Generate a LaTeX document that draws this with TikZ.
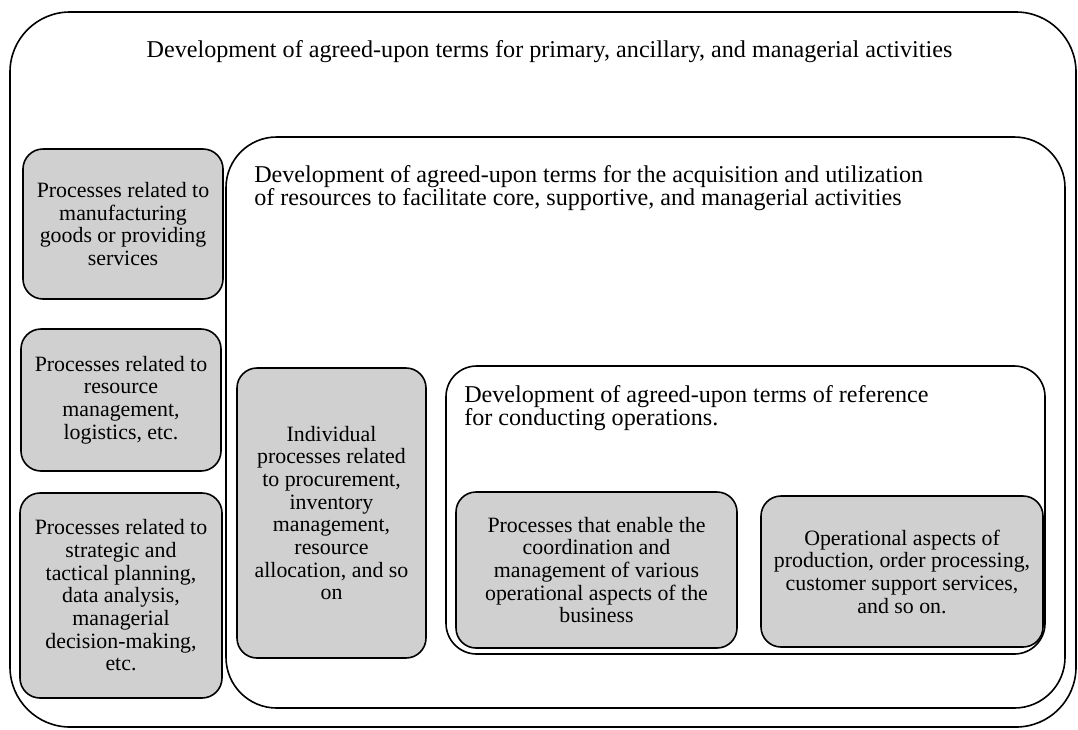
\documentclass[tikz,border=0pt]{standalone}
\usepackage{fontspec}
\setmainfont{Liberation Serif}
\definecolor{boxgray}{RGB}{208,208,208}
\begin{document}
\begin{tikzpicture}[x=0.75pt,y=-0.75pt,
  every node/.style={font=\fontsize{16.4pt}{17pt}\selectfont},
  container/.style={draw=black,line width=1.2pt,rectangle,inner sep=0pt,fill=white},
  graybox/.style={draw=black,line width=1.2pt,rectangle,rounded corners=15pt,fill=boxgray,inner sep=0pt,align=center},
  title/.style={inner sep=0pt,align=left,font=\fontsize{18.1pt}{17.3pt}\selectfont}]
\useasboundingbox (0,0) rectangle (1078,729);
\fill[white] (0,0) rectangle (1078,729);
% containers
\node[container,rounded corners=45pt,minimum width=799.5pt,minimum height=536.25pt] (outer) at (543,369.5) {};
\node[title,anchor=center] (t1) at (549.5,52) {Development of agreed-upon terms for primary, ancillary, and managerial activities};
\node[container,rounded corners=38pt,minimum width=629.25pt,minimum height=428.25pt] (middle) at (645.5,422.5) {};
\node[title,anchor=west] (t2) at (254,188.5) {Development of agreed-upon terms for the acquisition and utilization\\of resources to facilitate core, supportive, and managerial activities};
\node[container,rounded corners=23pt,minimum width=449.25pt,minimum height=216pt] (inner) at (745.5,510) {};
\node[title,anchor=west] (t3) at (464,408.5) {Development of agreed-upon terms of reference\\for conducting operations.};
% left column
\node[graybox,minimum width=150pt,minimum height=112.5pt] (b1) at (123,224) {Processes related to\\manufacturing\\goods or providing\\services};
\node[graybox,minimum width=150pt,minimum height=106.5pt] (b2) at (121,400) {Processes related to\\resource\\management,\\logistics, etc.};
\node[graybox,minimum width=151.5pt,minimum height=153.75pt] (b3) at (121,595.5) {Processes related to\\strategic and\\tactical planning,\\data analysis,\\managerial\\decision-making,\\etc.};
% middle column
\node[graybox,minimum width=141.75pt,minimum height=217.5pt] (b4) at (331.5,513) {Individual\\processes related\\to procurement,\\inventory\\management,\\resource\\allocation, and so\\on};
% inner boxes
\node[graybox,minimum width=210.75pt,minimum height=117pt] (b5) at (596.5,570) {Processes that enable the\\coordination and\\management of various\\operational aspects of the\\business};
\node[graybox,minimum width=211.5pt,minimum height=113.25pt] (b6) at (902,571.5) {Operational aspects of\\production, order processing,\\customer support services,\\and so on.};
\end{tikzpicture}
\end{document}
